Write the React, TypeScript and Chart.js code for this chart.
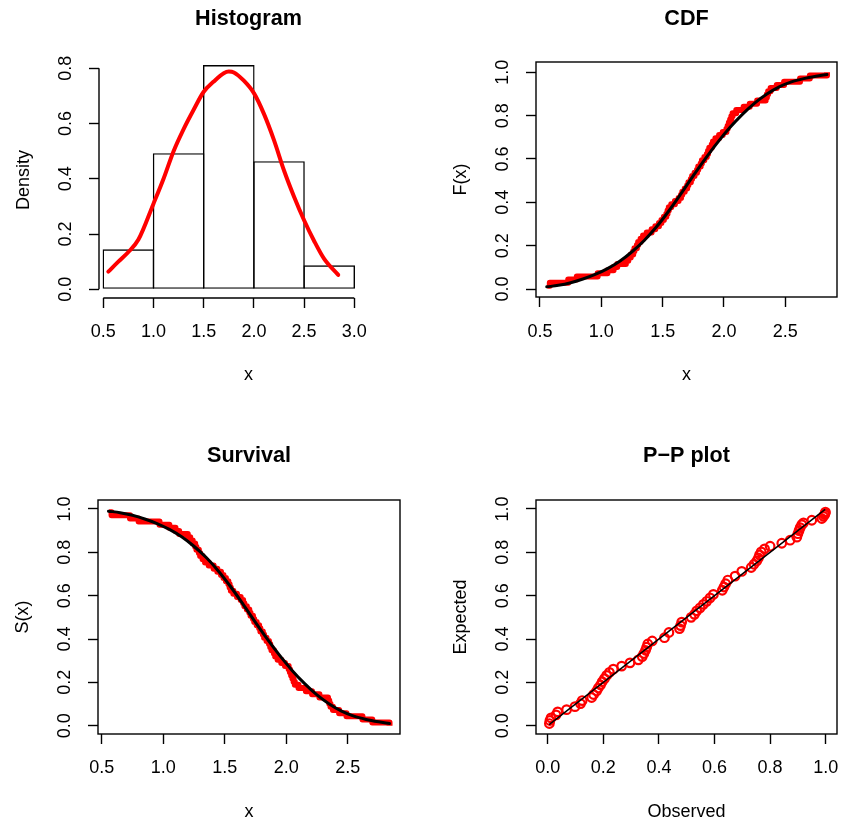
import React, { useEffect, useRef } from "react";
import { Chart, registerables } from "chart.js";

Chart.register(...registerables);

const FAMILY = '"Liberation Sans", Arial, Helvetica, sans-serif';
Chart.defaults.font.family = FAMILY;

// ---------------- data ----------------
const histBreaks = [0.5, 1.0, 1.5, 2.0, 2.5, 3.0];
const histDensity = [0.1449, 0.4928, 0.8116, 0.4638, 0.087];

const densityX = [0.55, 0.65, 0.75, 0.85, 1.0, 1.1, 1.2, 1.3, 1.4, 1.5, 1.6, 1.7, 1.75, 1.8, 1.9, 2.0, 2.1, 2.2, 2.3, 2.4, 2.5, 2.6, 2.7, 2.84];
const densityY = [0.064, 0.1, 0.135, 0.18, 0.31, 0.4, 0.5, 0.58, 0.65, 0.715, 0.752, 0.782, 0.788, 0.785, 0.755, 0.71, 0.635, 0.54, 0.43, 0.335, 0.25, 0.175, 0.11, 0.052];

const sampleX = [
  0.56, 0.58, 0.73, 0.8, 0.97, 1.05, 1.1, 1.13, 1.2, 1.22,
  1.24, 1.26, 1.27, 1.29, 1.3, 1.32, 1.34, 1.37, 1.41, 1.44,
  1.47, 1.49, 1.51, 1.53, 1.54, 1.55, 1.57, 1.6, 1.63, 1.65,
  1.66, 1.68, 1.7, 1.71, 1.73, 1.74, 1.76, 1.78, 1.79, 1.81,
  1.82, 1.84, 1.86, 1.87, 1.88, 1.9, 1.91, 1.93, 1.96, 1.99,
  2.02, 2.03, 2.04, 2.05, 2.06, 2.07, 2.1, 2.16, 2.21, 2.27,
  2.34, 2.35, 2.36, 2.38, 2.43, 2.49, 2.62, 2.7, 2.84,
];

const cdfCurveX = [0.555, 0.65, 0.75, 0.85, 0.95, 1.05, 1.15, 1.25, 1.35, 1.45, 1.55, 1.65, 1.75, 1.85, 1.95, 2.05, 2.15, 2.25, 2.35, 2.45, 2.55, 2.65, 2.75, 2.84];
const cdfCurveY = [0.01, 0.017, 0.029, 0.046, 0.067, 0.094, 0.128, 0.172, 0.224, 0.287, 0.36, 0.44, 0.523, 0.603, 0.678, 0.746, 0.806, 0.858, 0.9, 0.933, 0.956, 0.971, 0.982, 0.99];

const ppObserved = [
  0.006, 0.008, 0.012, 0.03, 0.036, 0.068, 0.098, 0.118, 0.124, 0.158,
  0.165, 0.176, 0.182, 0.19, 0.196, 0.204, 0.212, 0.222, 0.236, 0.266,
  0.296, 0.326, 0.34, 0.346, 0.352, 0.356, 0.36, 0.376, 0.42, 0.436,
  0.474, 0.478, 0.482, 0.516, 0.528, 0.536, 0.548, 0.56, 0.572, 0.584,
  0.596, 0.628, 0.634, 0.64, 0.648, 0.674, 0.698, 0.732, 0.742, 0.752,
  0.758, 0.762, 0.768, 0.78, 0.8, 0.842, 0.872, 0.896, 0.9, 0.904,
  0.908, 0.914, 0.92, 0.95, 0.986, 0.992, 0.996, 0.998, 0.999,
];
const ppExpected = [
  0.01, 0.024, 0.036, 0.05, 0.064, 0.074, 0.088, 0.102, 0.116, 0.13,
  0.144, 0.16, 0.174, 0.188, 0.203, 0.217, 0.232, 0.246, 0.261, 0.275,
  0.29, 0.304, 0.319, 0.333, 0.348, 0.362, 0.377, 0.391, 0.406, 0.43,
  0.448, 0.462, 0.478, 0.5, 0.514, 0.53, 0.544, 0.56, 0.574, 0.59,
  0.606, 0.625, 0.64, 0.655, 0.672, 0.69, 0.712, 0.73, 0.745, 0.76,
  0.774, 0.788, 0.802, 0.816, 0.828, 0.842, 0.856, 0.87, 0.886, 0.9,
  0.914, 0.928, 0.936, 0.948, 0.956, 0.966, 0.974, 0.98, 0.986,
];
const ppLine = [0.005, 0.998];

const histXTicks = [0.5, 1.0, 1.5, 2.0, 2.5, 3.0];
const histYTicks = [0, 0.2, 0.4, 0.6, 0.8];
const xTicks = [0.5, 1.0, 1.5, 2.0, 2.5];
const probTicks = [0, 0.2, 0.4, 0.6, 0.8, 1.0];

// ---------------- styling / layout constants ----------------
const RED = "#ff0000";
const BLACK = "#000000";
const LW = 1.4;
const YW = 90;
const XH = 100;
const TL = 10;
const TICK_SIZE = 18;
const TITLE_SIZE = 21.6;
const LH_TICK = TICK_SIZE * 1.2;
const LH_TITLE = TITLE_SIZE * 1.2;
const Y_LABEL_OFFSET = 33;
const Y_TITLE_OFFSET = 75;

type Area = { l: number; t: number; r: number; b: number };
type PanelSpec = {
  title: string;
  xTitle: string;
  yTitle: string;
  area: Area;
  titleMid: number;
  xLabelMid: number;
  xTitleMid: number;
  xMin: number;
  xMax: number;
  yMin: number;
  yMax: number;
  xTickVals: number[];
  yTickVals: number[];
  boxed: boolean;
  datasets: any[];
};

const framePlugin = {
  id: "frame",
  afterDatasetsDraw(chart: any, _args: any, opts: any) {
    const { ctx, chartArea: a } = chart;
    ctx.save();
    ctx.strokeStyle = BLACK;
    ctx.lineWidth = LW;
    if (opts.boxed) {
      ctx.strokeRect(a.left, a.top, a.right - a.left, a.bottom - a.top);
    } else {
      const xs = chart.scales.x;
      const ys = chart.scales.y;
      const xt = xs.ticks;
      const yt = ys.ticks;
      ctx.beginPath();
      ctx.moveTo(xs.getPixelForValue(xt[0].value), a.bottom);
      ctx.lineTo(xs.getPixelForValue(xt[xt.length - 1].value), a.bottom);
      ctx.moveTo(a.left, ys.getPixelForValue(yt[0].value));
      ctx.lineTo(a.left, ys.getPixelForValue(yt[yt.length - 1].value));
      ctx.stroke();
    }
    ctx.restore();
  },
};

function geometry(p: PanelSpec) {
  const left = p.area.l - YW;
  const top = Math.round(p.titleMid - LH_TITLE / 2 - 6);
  const width = p.area.r - p.area.l + 2 * YW;
  const height = p.area.b + XH - top;
  return { left, top, width, height };
}

function makeConfig(p: PanelSpec) {
  const g = geometry(p);
  const titlePadTop = p.titleMid - LH_TITLE / 2 - g.top;
  const titlePadBottom = p.area.t - g.top - LH_TITLE - titlePadTop;
  const xTickPad = p.xLabelMid - p.area.b - TL - LH_TICK / 2;
  const xTitlePadBottom = p.area.b + XH - LH_TICK / 2 - p.xTitleMid;
  const yTitlePadTop = YW - Y_TITLE_OFFSET - LH_TICK / 2;
  const tickFont = { family: FAMILY, size: TICK_SIZE };
  const fmt = (v: any) => Number(v).toFixed(1);
  const grid = {
    display: true,
    drawOnChartArea: false,
    drawTicks: true,
    tickLength: TL,
    tickColor: BLACK,
    tickWidth: LW,
    offset: false,
  };
  return {
    type: "line",
    data: { datasets: p.datasets },
    plugins: [framePlugin],
    options: {
      responsive: false,
      animation: false,
      events: [],
      layout: { padding: 0 },
      plugins: {
        legend: { display: false },
        tooltip: { enabled: false },
        title: {
          display: true,
          text: p.title,
          color: BLACK,
          font: { family: FAMILY, size: TITLE_SIZE, weight: "bold" },
          padding: { top: titlePadTop, bottom: titlePadBottom },
        },
        frame: { boxed: p.boxed },
      },
      scales: {
        x: {
          type: "linear",
          position: "bottom",
          min: p.xMin,
          max: p.xMax,
          offset: false,
          grid,
          border: { display: false },
          ticks: {
            font: tickFont,
            color: BLACK,
            padding: xTickPad,
            maxRotation: 0,
            minRotation: 0,
            autoSkip: false,
            callback: fmt,
          },
          title: {
            display: true,
            text: p.xTitle,
            color: BLACK,
            font: tickFont,
            padding: { top: 0, bottom: xTitlePadBottom },
          },
          afterBuildTicks: (s: any) => {
            s.ticks = p.xTickVals.map((v) => ({ value: v }));
          },
          afterFit: (s: any) => {
            s.height = XH;
            s.paddingLeft = 0;
            s.paddingRight = 0;
          },
        },
        y: {
          type: "linear",
          position: "left",
          min: p.yMin,
          max: p.yMax,
          grid,
          border: { display: false },
          ticks: {
            font: tickFont,
            color: BLACK,
            padding: Y_LABEL_OFFSET - TL - 12.5,
            minRotation: 90,
            maxRotation: 90,
            crossAlign: "center",
            autoSkip: false,
            callback: fmt,
          },
          title: {
            display: true,
            text: p.yTitle,
            color: BLACK,
            font: tickFont,
            padding: { top: yTitlePadTop, bottom: 0 },
          },
          afterBuildTicks: (s: any) => {
            s.ticks = p.yTickVals.map((v) => ({ value: v }));
          },
          afterFit: (s: any) => {
            s.width = YW;
            s.paddingTop = 0;
            s.paddingBottom = 0;
          },
        },
        yPad: {
          type: "linear",
          axis: "y",
          position: "right",
          display: true,
          min: 0,
          max: 1,
          grid: { display: false },
          border: { display: false },
          ticks: { display: false },
          afterFit: (s: any) => {
            s.width = YW;
            s.paddingTop = 0;
            s.paddingBottom = 0;
          },
        },
      },
    },
  };
}

// ---------------- panels ----------------
const n = sampleX.length;
// bar width in pixels between breaks is ~50.2px; widen by the border width so
// neighbouring borders overlap exactly on the break lines
const BAR_PCT = (50.2 + LW) / 50.2;

const histPanel: PanelSpec = {
  title: "Histogram",
  xTitle: "x",
  yTitle: "Density",
  area: { l: 99, t: 62, r: 398, b: 298 },
  titleMid: 19,
  xLabelMid: 331.7,
  xTitleMid: 375.5,
  xMin: 0.4572,
  xMax: 3.4353,
  yMin: -0.0315,
  yMax: 0.8228,
  xTickVals: histXTicks,
  yTickVals: histYTicks,
  boxed: false,
  datasets: [
    {
      type: "line",
      data: densityX.map((x, i) => ({ x, y: densityY[i] })),
      borderColor: RED,
      borderWidth: 4,
      pointRadius: 0,
      cubicInterpolationMode: "monotone",
      borderCapStyle: "round",
      borderJoinStyle: "round",
      order: 0,
    },
    {
      type: "bar",
      data: histDensity.map((d, i) => ({ x: (histBreaks[i] + histBreaks[i + 1]) / 2, y: d })),
      backgroundColor: "rgba(255,255,255,0)",
      borderColor: BLACK,
      borderWidth: LW,
      borderSkipped: false,
      categoryPercentage: 1,
      barPercentage: BAR_PCT,
      order: 1,
    },
  ],
};

const cdfPanel: PanelSpec = {
  title: "CDF",
  xTitle: "x",
  yTitle: "F(x)",
  area: { l: 536, t: 62, r: 837, b: 297 },
  titleMid: 19,
  xLabelMid: 331.7,
  xTitleMid: 375.5,
  xMin: 0.4674,
  xMax: 2.9215,
  yMin: -0.0369,
  yMax: 1.0476,
  xTickVals: xTicks,
  yTickVals: probTicks,
  boxed: true,
  datasets: [
    {
      data: cdfCurveX.map((x, i) => ({ x, y: cdfCurveY[i] })),
      borderColor: BLACK,
      borderWidth: 3,
      pointRadius: 0,
      cubicInterpolationMode: "monotone",
      borderCapStyle: "round",
      borderJoinStyle: "round",
      order: 0,
    },
    {
      data: sampleX.map((x, i) => ({ x, y: (i + 1) / n })),
      borderColor: RED,
      borderWidth: 6,
      pointRadius: 0,
      stepped: true,
      borderJoinStyle: "round",
      order: 1,
    },
  ],
};

const survPanel: PanelSpec = {
  title: "Survival",
  xTitle: "x",
  yTitle: "S(x)",
  area: { l: 98, t: 500, r: 400, b: 734 },
  titleMid: 455.8,
  xLabelMid: 768.3,
  xTitleMid: 812,
  xMin: 0.4699,
  xMax: 2.9252,
  yMin: -0.0383,
  yMax: 1.0415,
  xTickVals: xTicks,
  yTickVals: probTicks,
  boxed: true,
  datasets: [
    {
      data: cdfCurveX.map((x, i) => ({ x, y: 1 - cdfCurveY[i] })),
      borderColor: BLACK,
      borderWidth: 3,
      pointRadius: 0,
      cubicInterpolationMode: "monotone",
      borderCapStyle: "round",
      borderJoinStyle: "round",
      order: 0,
    },
    {
      data: sampleX.map((x, i) => ({ x, y: 1 - (i + 1) / n })),
      borderColor: RED,
      borderWidth: 6,
      pointRadius: 0,
      stepped: true,
      borderJoinStyle: "round",
      order: 1,
    },
  ],
};

const ppPanel: PanelSpec = {
  title: "P\u2212P plot",
  xTitle: "Observed",
  yTitle: "Expected",
  area: { l: 536, t: 500, r: 837, b: 734 },
  titleMid: 456.5,
  xLabelMid: 768.3,
  xTitleMid: 811.7,
  xMin: -0.0421,
  xMax: 1.0406,
  yMin: -0.0383,
  yMax: 1.0415,
  xTickVals: probTicks,
  yTickVals: probTicks,
  boxed: true,
  datasets: [
    {
      data: ppLine.map((v) => ({ x: v, y: v })),
      borderColor: BLACK,
      borderWidth: 1.5,
      pointRadius: 0,
      order: 0,
    },
    {
      data: ppObserved.map((x, i) => ({ x, y: ppExpected[i] })),
      showLine: false,
      pointRadius: 4.3,
      pointBorderWidth: 2.2,
      pointBorderColor: RED,
      pointBackgroundColor: "rgba(255,255,255,0)",
      order: 1,
    },
  ],
};

const panels = [histPanel, cdfPanel, survPanel, ppPanel];

function PanelChart({ spec }: { spec: PanelSpec }) {
  const ref = useRef<HTMLCanvasElement | null>(null);
  const g = geometry(spec);
  useEffect(() => {
    if (!ref.current) return;
    const chart = new Chart(ref.current, makeConfig(spec) as any);
    return () => chart.destroy();
  }, [spec]);
  return (
    <canvas
      ref={ref}
      width={g.width}
      height={g.height}
      style={{ position: "absolute", left: g.left, top: g.top, width: g.width, height: g.height }}
    />
  );
}

export default function App() {
  return (
    <div
      style={{
        position: "absolute",
        left: 0,
        top: 0,
        width: 843,
        height: 823,
        overflow: "hidden",
        background: "#ffffff",
      }}
    >
      {panels.map((p, i) => (
        <PanelChart key={i} spec={p} />
      ))}
    </div>
  );
}
